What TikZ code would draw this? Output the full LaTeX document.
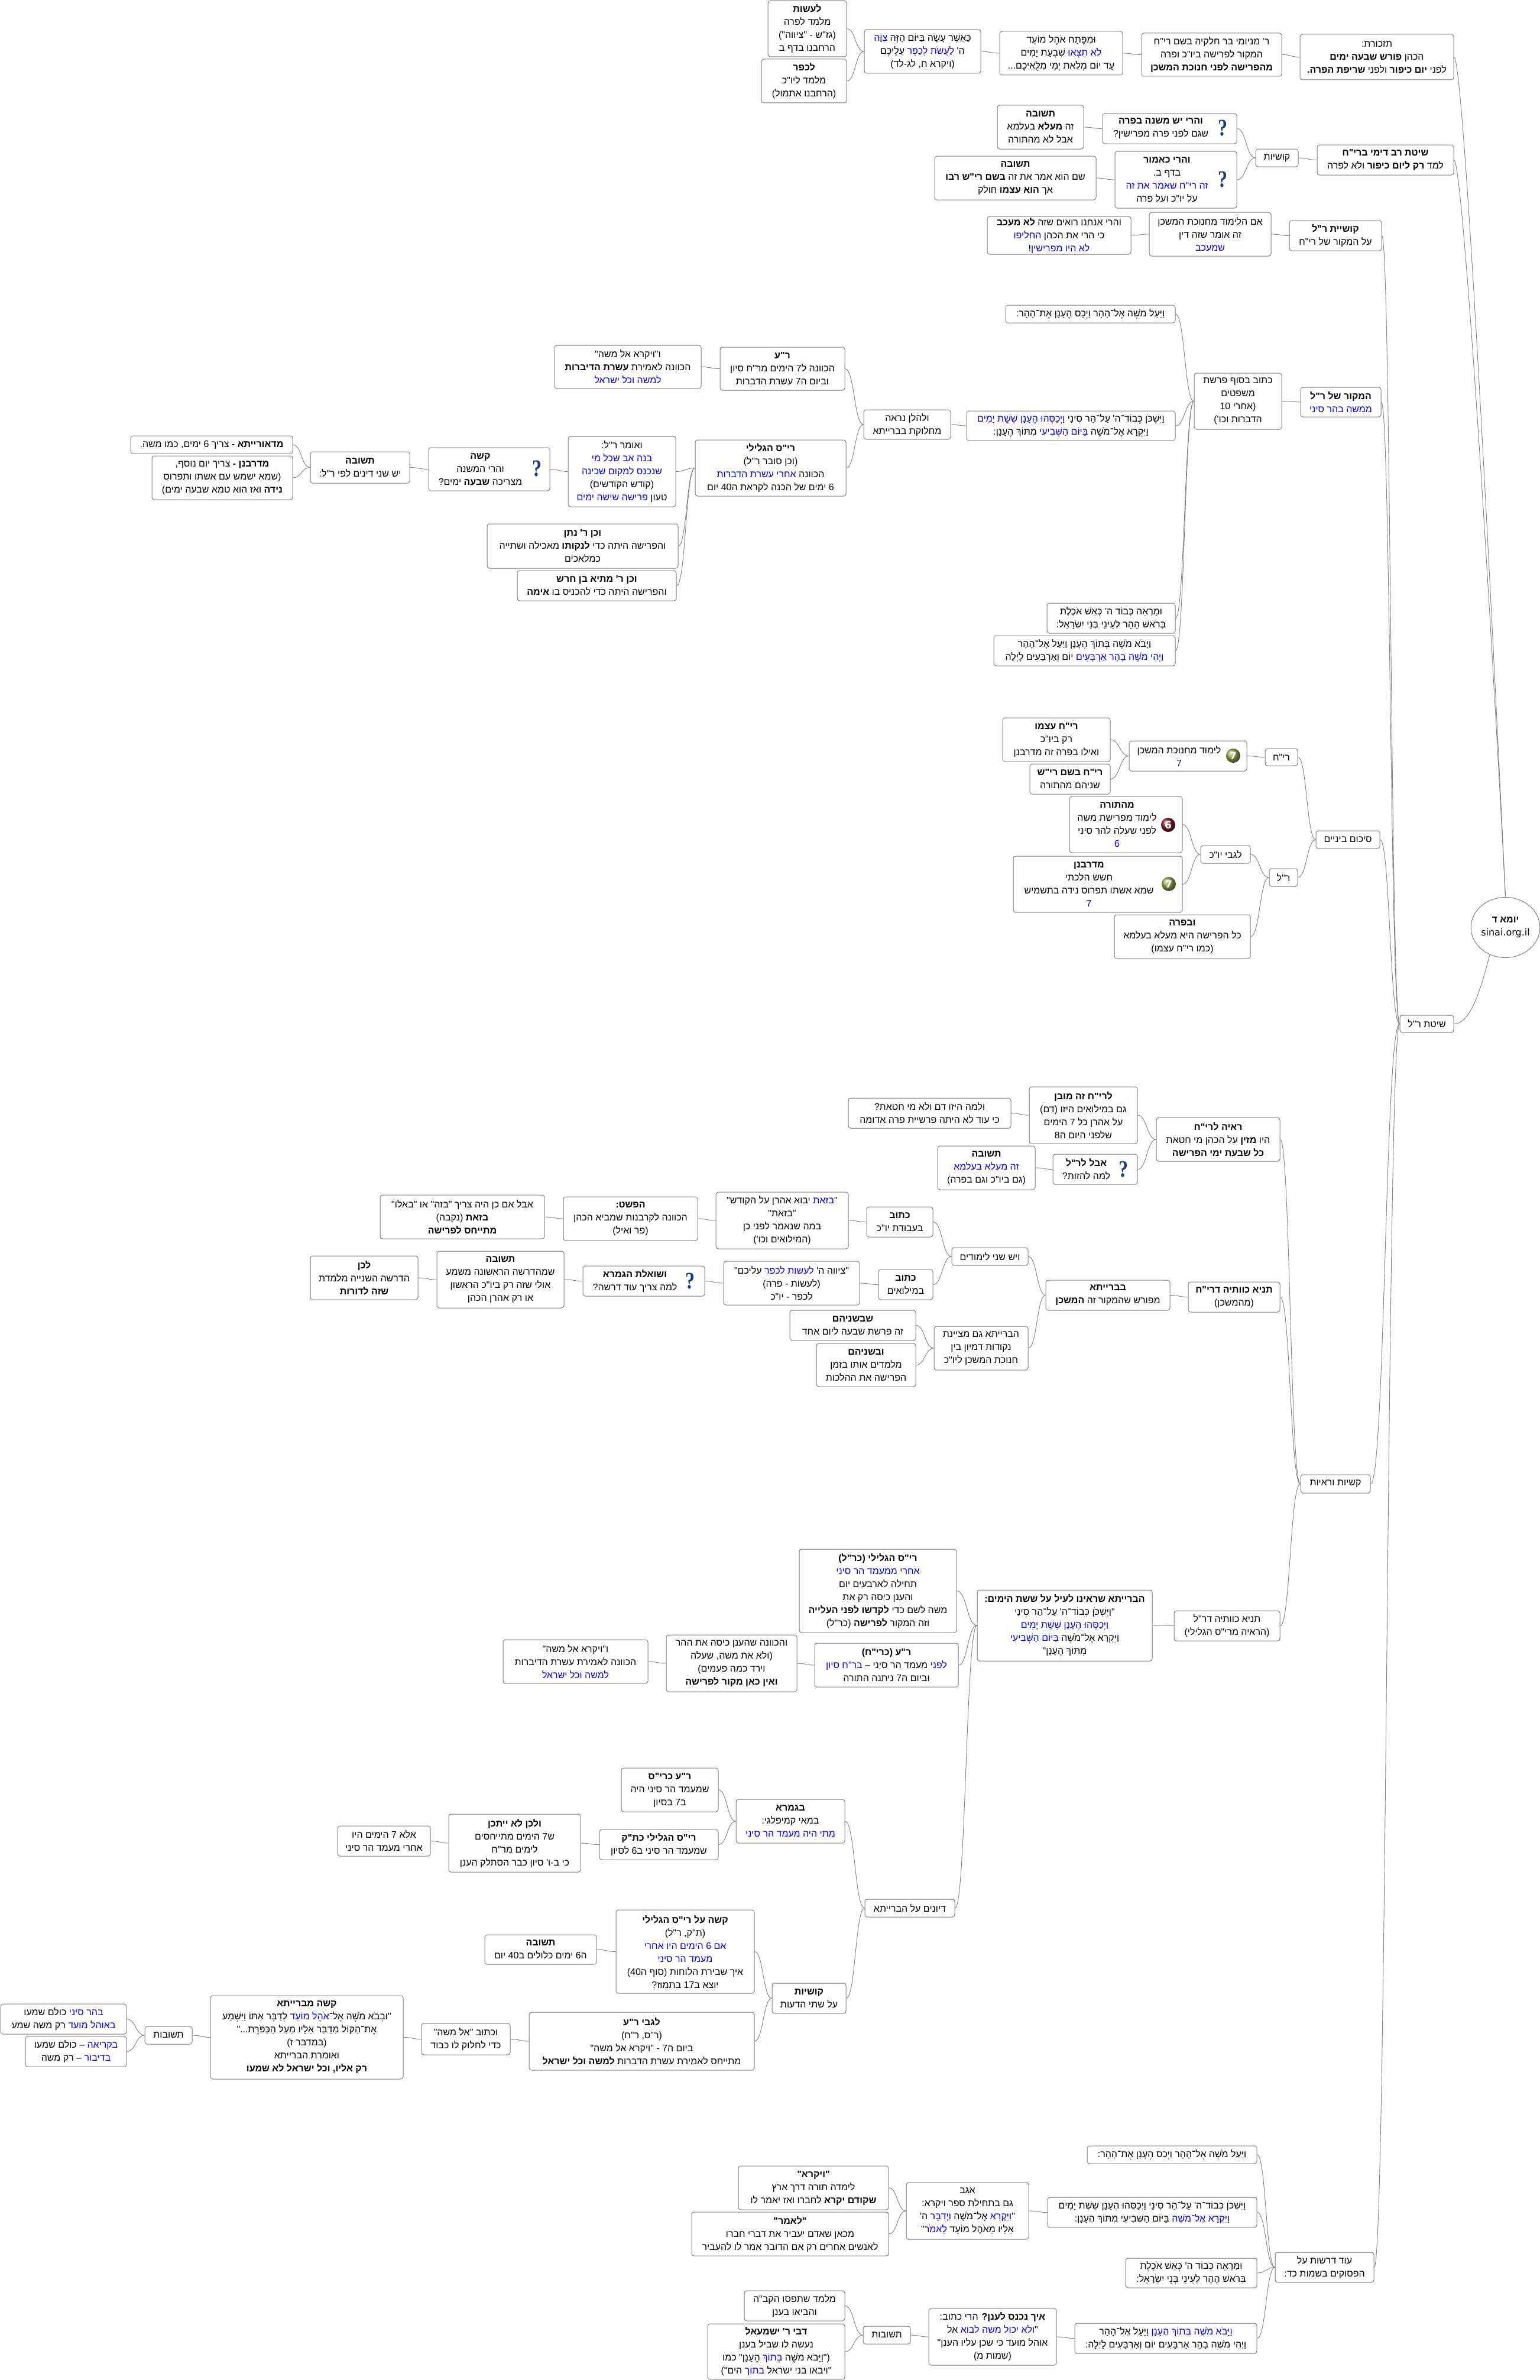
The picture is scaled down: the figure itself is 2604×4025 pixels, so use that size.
\documentclass[tikz,border=0pt]{standalone}
\usepackage{fontspec}
\usetikzlibrary{calc,shapes.geometric}
\TeXXeTstate=1
\newfontfamily\hb[Script=Hebrew]{Liberation Sans}
\newfontfamily\hbblue[Script=Hebrew,Color=0000FF]{Liberation Sans}
\newfontfamily\lat{DejaVu Sans}
\newfontfamily\qf{Liberation Serif}
\definecolor{edgegray}{RGB}{128,128,128}
\definecolor{qblue}{RGB}{32,58,120}
\definecolor{ballg}{RGB}{150,170,80}
\definecolor{ballr}{RGB}{135,35,45}
\newcommand\rl[1]{\leavevmode\beginR #1\endR}
\newcommand\blu[1]{{\hbblue #1}}
\newcommand\tb[1]{\textbf{#1}}
\tikzset{
  box/.style={draw=edgegray,rounded corners=4pt,fill=white,line width=1pt,inner sep=0pt,align=center,font=\fontsize{16}{22}\selectfont\hb,text=black},
  txt/.style={inner sep=0pt,align=center,font=\fontsize{16}{22}\selectfont\hb,text=black},
  link/.style={draw=edgegray,line width=.9pt},
  qmark/.style={inner sep=0pt,transform shape,xscale=.8,font=\fontsize{40}{40}\selectfont\qf\bfseries,text=qblue},
  ballnum/.style={circle,inner sep=0pt,minimum size=24pt,text=white,font=\fontsize{17}{17}\selectfont\lat\bfseries},
}
\newcommand\bx[6]{\node[box,minimum width={(#4-#2)*1pt},minimum height={(#5-#3)*1pt}] (#1) at ({(#2+#4)/2},{(#3+#5)/2}) {#6};}
\newcommand\bxi[6]{\node[box,minimum width={(#4-#2)*1pt},minimum height={(#5-#3)*1pt}] (#1) at ({(#2+#4)/2},{(#3+#5)/2}) {};
  \node[txt,xshift=-15pt] (#1T) at (#1) {#6};}
\newcommand\lnk[2]{\coordinate (mm) at ($(#1.east)!.5!(#2.west)$);
  \draw[link] (#1.east) .. controls (mm |- #1.east) and (mm |- #2.west) .. (#2.west);}
\begin{document}
\begin{tikzpicture}[x=1pt,y=-1pt]
\useasboundingbox[fill=white] (0,0) rectangle (2604,4025);
% ---- top
\bx{a01}{1299}{1}{1432}{96}{\rl{\tb{לעשות}}\\\rl{מלמד לפרה}\\\rl{(גז"ש - "ציווה")}\\\rl{הרחבנו בדף ב}}
\bx{a02}{1288}{100}{1432}{174}{\rl{\tb{לכפר}}\\\rl{מלמד ליו"כ}\\\rl{(הרחבנו אתמול)}}
\bx{a03}{1462}{50}{1659}{124}{\rl{כַּאֲשֶׁר עָשָׂה בַּיּוֹם הַזֶּה \blu{צִוָּה}}\\\rl{ה' \blu{לַעֲשֹׂת לְכַפֵּר} עֲלֵיכֶם}\\\rl{(ויקרא ח, לג-לד)}}
\bx{a04}{1691}{53}{1899}{127}{\rl{וּמִפֶּתַח אֹהֶל מוֹעֵד}\\\rl{\blu{לֹא תֵצְאוּ} שִׁבְעַת יָמִים}\\\rl{עַד יוֹם מְלֹאת יְמֵי מִלֻּאֵיכֶם...}}
\bx{a05}{1931}{56}{2168}{129}{\rl{ר' מניומי בר חלקיה בשם רי"ח}\\\rl{המקור לפרישה ביו"כ ופרה}\\\rl{\tb{מהפרישה לפני חנוכת המשכן}}}
\bx{a06}{2199}{58}{2459}{135}{\rl{תזכורת:}\\\rl{הכהן \tb{פורש שבעה ימים}}\\\rl{לפני \tb{יום כיפור} ולפני \tb{שריפת הפרה.}}}
\bx{a07}{1687}{178}{1833}{252}{\rl{\tb{תשובה}}\\\rl{זה \tb{מעלא} בעלמא}\\\rl{אבל לא מהתורה}}
\bxi{a08}{1865}{192}{2092}{243}{\rl{\tb{והרי יש משנה בפרה}}\\\rl{שגם לפני פרה מפרישין?}}
\bx{a09}{2124}{252}{2196}{282}{\rl{קושיות}}
\bx{a10}{2228}{245}{2459}{296}{\rl{\tb{שיטת רב דימי ברי"ח}}\\\rl{למד \tb{רק ליום כיפור} ולא לפרה}}
\bx{a11}{1581}{264}{1854}{338}{\rl{\tb{תשובה}}\\\rl{שם הוא אמר את זה \tb{בשם רי"ש רבו}}\\\rl{אך \tb{הוא עצמו} חולק}}
\bxi{a12}{1886}{256}{2092}{352}{\rl{\tb{והרי כאמור}}\\\rl{בדף ב.}\\\rl{\blu{זה רי"ח שאמר את זה}}\\\rl{על יו"כ ועל פרה}}
\bx{a13}{1670}{366}{1913}{430}{\rl{והרי אנחנו רואים שזה \tb{לא מעכב}}\\\rl{כי הרי את הכהן \blu{החליפו}}\\\rl{\blu{לא היו מפרישין}!}}
\bx{a14}{1944}{359}{2150}{433}{\rl{אם הלימוד מחנוכת המשכן}\\\rl{זה אומר שזה דין}\\\rl{\blu{שמעכב}}}
\bx{a15}{2181}{373}{2337}{424}{\rl{\tb{קושיית ר"ל}}\\\rl{על המקור של רי"ח}}
% ---- source of R"L
\bx{b01}{1701}{516}{1988}{546}{\rl{וַיַּעַל מֹשֶׁה אֶל־הָהָר וַיְכַס הֶעָנָן אֶת־הָהָר:}}
\bx{b02}{1635}{695}{1988}{745}{\rl{וַיִּשְׁכֹּן כְּבוֹד־ה' עַל־הַר סִינַי \blu{וַיְכַסֵּהוּ הֶעָנָן שֵׁשֶׁת יָמִים}}\\\rl{וַיִּקְרָא אֶל־מֹשֶׁה \blu{בַּיּוֹם הַשְּׁבִיעִי} מִתּוֹךְ הֶעָנָן:}}
\bx{b03}{1771}{1020}{1988}{1071}{\rl{וּמַרְאֵה כְּבוֹד ה' כְּאֵשׁ אֹכֶלֶת}\\\rl{בְּרֹאשׁ הָהָר לְעֵינֵי בְּנֵי יִשְׂרָאֵל:}}
\bx{b04}{1681}{1075}{1988}{1126}{\rl{וַיָּבֹא מֹשֶׁה בְּתוֹךְ הֶעָנָן וַיַּעַל אֶל־הָהָר}\\\rl{\blu{וַיְהִי מֹשֶׁה בָהָר אַרְבָּעִים} יוֹם וְאַרְבָּעִים לָיְלָה}}
\bx{b05}{2020}{631}{2168}{726}{\rl{כתוב בסוף פרשת}\\\rl{משפטים}\\\rl{(אחרי 10}\\\rl{הדברות וכו')}}
\bx{b06}{2200}{655}{2336}{705}{\rl{\tb{המקור של ר"ל}}\\\rl{\blu{ממשה בהר סיני}}}
\bx{b07}{1461}{693}{1608}{743}{\rl{ולהלן נראה}\\\rl{מחלוקת בברייתא}}
\bx{b08}{1218}{587}{1429}{660}{\rl{\tb{ר"ע}}\\\rl{הכוונה ל7 הימים מר"ח סיון}\\\rl{וביום ה7 עשרת הדברות}}
\bx{b09}{938}{584}{1186}{657}{\rl{ו"ויקרא אל משה"}\\\rl{הכוונה לאמירת \tb{עשרת הדיברות}}\\\rl{\blu{למשה וכל ישראל}}}
\bx{b10}{1176}{744}{1431}{839}{\rl{\tb{רי"ס הגלילי}}\\\rl{(וכן סובר ר"ל)}\\\rl{הכוונה \blu{אחרי עשרת הדברות}}\\\rl{6 ימים של הכנה לקראת ה40 יום}}
\bx{b11}{961}{738}{1143}{857}{\rl{ואומר ר"ל:}\\\rl{\blu{בנה אב שכל מי}}\\\rl{\blu{שנכנס למקום שכינה}}\\\rl{(קודש הקודשים)}\\\rl{טעון \blu{פרישה שישה ימים}}}
\bxi{b12}{725}{757}{930}{830}{\rl{\tb{קשה}}\\\rl{והרי המשנה}\\\rl{מצריכה \tb{שבעה} ימים?}}
\bx{b13}{525}{764}{693}{817}{\rl{\tb{תשובה}}\\\rl{יש שני דינים לפי ר"ל:}}
\bx{b14}{221}{737}{495}{767}{\rl{\tb{מדאורייתא -} צריך 6 ימים, כמו משה.}}
\bx{b15}{257}{771}{495}{845}{\rl{\tb{מדרבנן -} צריך יום נוסף,}\\\rl{(שמא ישמש עם אשתו ותפרוס}\\\rl{\tb{נידה} ואז הוא טמא שבעה ימים)}}
\bx{b16}{824}{886}{1147}{961}{\rl{\tb{וכן ר' נתן}}\\\rl{והפרישה היתה כדי \tb{לנקותו} מאכילה ושתייה}\\\rl{כמלאכים}}
\bx{b17}{875}{965}{1144}{1016}{\rl{\tb{וכן ר' מתיא בן חרש}}\\\rl{והפרישה היתה כדי להכניס בו \tb{אימה}}}
% ---- summary
\bx{c01}{1696}{1214}{1878}{1288}{\rl{\tb{רי"ח עצמו}}\\\rl{רק ביו"כ}\\\rl{ואילו בפרה זה מדרבנן}}
\bx{c02}{1742}{1292}{1878}{1343}{\rl{\tb{רי"ח בשם רי"ש}}\\\rl{שניהם מהתורה}}
\bxi{c03}{1910}{1253}{2109}{1304}{\rl{לימוד מחנוכת המשכן}\\\rl{\blu{7}}}
\bx{c04}{2140}{1266}{2195}{1295}{\rl{רי"ח}}
\bxi{c05}{1809}{1347}{2000}{1442}{\rl{\tb{מהתורה}}\\\rl{לימוד מפרישת משה}\\\rl{לפני שעלה להר סיני}\\\rl{\blu{6}}}
\bxi{c06}{1714}{1448}{2000}{1543}{\rl{\tb{מדרבנן}}\\\rl{חשש הלכתי}\\\rl{שמא אשתו תפרוס נידה בתשמיש}\\\rl{\blu{7}}}
\bx{c07}{2031}{1430}{2115}{1460}{\rl{לגבי יו"כ}}
\bx{c08}{2147}{1469}{2195}{1499}{\rl{ר"ל}}
\bx{c09}{1885}{1547}{2115}{1621}{\rl{\tb{ובפרה}}\\\rl{כל הפרישה היא מעלא בעלמא}\\\rl{(כמו רי"ח עצמו)}}
\bx{c10}{2226}{1405}{2334}{1435}{\rl{סיכום ביניים}}
\node[box,shape=ellipse,minimum width=113pt,minimum height=102pt] (root) at (2546.5,1568.5) {\rl{\tb{יומא ד}}\\{\lat sinai.org.il}};
\bx{srl}{2368}{1717}{2459}{1746}{\rl{שיטת ר"ל}}
% ---- proofs
\bx{d01}{1435}{1857}{1710}{1908}{\rl{ולמה היזו דם ולא מי חטאת?}\\\rl{כי עוד לא היתה פרשיית פרה אדומה}}
\bx{d02}{1741}{1838}{1924}{1934}{\rl{\tb{לרי"ח זה מובן}}\\\rl{גם במילואים היזו (דם)}\\\rl{על אהרן כל 7 הימים}\\\rl{שלפני היום ה8}}
\bx{d03}{1956}{1890}{2165}{1964}{\rl{\tb{ראיה לרי"ח}}\\\rl{היו \tb{מזין} על הכהן מי חטאת}\\\rl{\tb{כל שבעת ימי הפרישה}}}
\bx{d04}{1586}{1938}{1751}{2012}{\rl{\tb{תשובה}}\\\rl{\blu{זה מעלא בעלמא}}\\\rl{(גם ביו"כ וגם בפרה)}}
\bxi{d05}{1781}{1952}{1924}{2003}{\rl{\tb{אבל לר"ל}}\\\rl{למה להזות?}}
\bx{d06}{643}{2021}{921}{2095}{\rl{אבל אם כן היה צריך "בזה" או "באלו"}\\\rl{\tb{בזאת} (נקבה)}\\\rl{\tb{מתייחס לפרישה}}}
\bx{d07}{953}{2024}{1180}{2098}{\rl{\tb{הפשט:}}\\\rl{הכוונה לקרבנות שמביא הכהן}\\\rl{(פר ואיל)}}
\bx{d08}{1211}{2016}{1435}{2112}{\rl{"\blu{בזאת} יבוא אהרן על הקודש"}\\\rl{"בזאת"}\\\rl{במה שנאמר לפני כן}\\\rl{(המילואים וכו')}}
\bx{d09}{1466}{2041}{1578}{2092}{\rl{\tb{כתוב}}\\\rl{בעבודת יו"כ}}
\bx{d10}{1610}{2110}{1739}{2140}{\rl{ויש שני לימודים}}
\bx{d11}{1486}{2147}{1578}{2198}{\rl{\tb{כתוב}}\\\rl{במילואים}}
\bx{d12}{1224}{2133}{1454}{2207}{\rl{"ציווה ה' \blu{לעשות לכפר} עליכם"}\\\rl{(לעשות - פרה)}\\\rl{לכפר - יו"כ}}
\bxi{d13}{986}{2141}{1192}{2192}{\rl{\tb{ושואלת הגמרא}}\\\rl{למה צריך עוד דרשה?}}
\bx{d14}{739}{2116}{954}{2212}{\rl{\tb{תשובה}}\\\rl{שמהדרשה הראשונה משמע}\\\rl{אולי שזה רק ביו"כ הראשון}\\\rl{או רק אהרן הכהן}}
\bx{d15}{525}{2124}{707}{2198}{\rl{\tb{לכן}}\\\rl{הדרשה השנייה מלמדת}\\\rl{\tb{שזה לדורות}}}
\bx{d16}{1336}{2216}{1549}{2267}{\rl{\tb{שבשניהם}}\\\rl{זה פרשת שבעה ליום אחד}}
\bx{d17}{1381}{2272}{1549}{2345}{\rl{\tb{ובשניהם}}\\\rl{מלמדים אותו בזמן}\\\rl{הפרישה את ההלכות}}
\bx{d18}{1580}{2243}{1739}{2317}{\rl{הברייתא גם מציינת}\\\rl{נקודות דמיון בין}\\\rl{חנוכת המשכן ליו"כ}}
\bx{d19}{1769}{2165}{1979}{2216}{\rl{\tb{בברייתא}}\\\rl{מפורש שהמקור זה \tb{המשכן}}}
\bx{d20}{2010}{2168}{2165}{2219}{\rl{\tb{תניא כוותיה דרי"ח}}\\\rl{(מהמשכן)}}
\bx{kv}{2200}{2494}{2318}{2525}{\rl{קשיות וראיות}}
% ---- baraita
\bx{e01}{1352}{2620}{1618}{2761}{\rl{\tb{רי"ס הגלילי (כר"ל)}}\\\rl{\blu{אחרי ממעמד הר סיני}}\\\rl{תחילה לארבעים יום}\\\rl{והענן כיסה רק את}\\\rl{משה לשם כדי \tb{לקדשו לפני העלייה}}\\\rl{וזה המקור \tb{לפרישה} (כר"ל)}}
\bx{e02}{1653}{2689}{1949}{2809}{\rl{\tb{הברייתא שראינו לעיל על ששת הימים:}}\\\rl{"וַיִּשְׁכֹּן כְּבוֹד־ה' עַל־הַר סִינַי}\\\rl{\blu{וַיְכַסֵּהוּ הֶעָנָן שֵׁשֶׁת יָמִים}}\\\rl{וַיִּקְרָא אֶל־מֹשֶׁה \blu{בַּיּוֹם הַשְּׁבִיעִי}}\\\rl{מִתּוֹךְ הֶעָנָן"}}
\bx{e03}{1986}{2724}{2165}{2775}{\rl{תניא כוותיה דר"ל}\\\rl{(הראיה מרי"ס הגלילי)}}
\bx{e04}{1378}{2779}{1621}{2853}{\rl{\tb{ר"ע (כרי"ח)}}\\\rl{\blu{לפני} מעמד הר סיני – \blu{בר"ח סיון}}\\\rl{וביום ה7 ניתנה התורה}}
\bx{e05}{1127}{2765}{1348}{2861}{\rl{והכוונה שהענן כיסה את ההר}\\\rl{(ולא את משה, שעלה}\\\rl{וירד כמה פעמים)}\\\rl{\tb{ואין כאן מקור לפרישה}}}
\bx{e06}{851}{2773}{1096}{2847}{\rl{ו"ויקרא אל משה"}\\\rl{הכוונה לאמירת עשרת הדיברות}\\\rl{\blu{למשה וכל ישראל}}}
% ---- discussions
\bx{f01}{1051}{2990}{1215}{3064}{\rl{\tb{ר"ע כרי"ס}}\\\rl{שמעמד הר סיני היה}\\\rl{ב7 בסיון}}
\bx{f02}{1245}{3043}{1429}{3117}{\rl{\tb{בגמרא}}\\\rl{במאי קמיפלגי:}\\\rl{\blu{מתי היה מעמד הר סיני}}}
\bx{f03}{1014}{3094}{1215}{3145}{\rl{\tb{רי"ס הגלילי כת"ק}}\\\rl{שמעמד הר סיני ב6 לסיון}}
\bx{f04}{759}{3068}{982}{3166}{\rl{\tb{ולכן לא ייתכן}}\\\rl{ש7 הימים מתייחסים}\\\rl{לימים מר"ח}\\\rl{כי ב-ו' סיון כבר הסתלק הענן}}
\bx{f05}{571}{3088}{728}{3139}{\rl{אלא 7 הימים היו}\\\rl{אחרי מעמד הר סיני}}
\bx{f06}{1463}{3212}{1615}{3242}{\rl{דיונים על הברייתא}}
\bx{f07}{1042}{3230}{1276}{3371}{\rl{\tb{קשה על רי"ס הגלילי}}\\\rl{(ת"ק, ר"ל)}\\\rl{\blu{אם 6 הימים היו אחרי}}\\\rl{\blu{מעמד הר סיני}}\\\rl{איך שבירת הלוחות (סוף ה40)}\\\rl{יוצא ב17 בתמוז?}}
\bx{f08}{820}{3272}{1009}{3322}{\rl{\tb{תשובה}}\\\rl{ה6 ימים כלולים ב40 יום}}
\bx{f09}{1306}{3354}{1431}{3405}{\rl{\tb{קושיות}}\\\rl{על שתי הדעות}}
\bx{f10}{895}{3403}{1276}{3501}{\rl{\tb{לגבי ר"ע}}\\\rl{(ר"ס, ר"ח)}\\\rl{ביום ה7 - "ויקרא אל משה"}\\\rl{מתייחס לאמירת עשרת הדברות \tb{למשה וכל ישראל}}}
\bx{f11}{713}{3422}{863}{3475}{\rl{וכתוב "אל משה"}\\\rl{כדי לחלוק לו כבוד}}
\bx{f12}{356}{3375}{682}{3516}{\rl{\tb{קשה מברייתא}}\\\rl{"וּבְבֹא מֹשֶׁה אֶל־\blu{אֹהֶל מוֹעֵד} לְדַבֵּר אִתּוֹ וַיִּשְׁמַע}\\\rl{אֶת־הַקּוֹל מִדַּבֵּר אֵלָיו מֵעַל הַכַּפֹּרֶת..."}\\\rl{(במדבר ז)}\\\rl{ואומרת הברייתא}\\\rl{\tb{רק אליו, וכל ישראל לא שמעו}}}
\bx{f13}{245}{3427}{325}{3457}{\rl{תשובות}}
\bx{f14}{1}{3389}{214}{3440}{\rl{\blu{בהר סיני} כולם שמעו}\\\rl{\blu{באוהל מועד} רק משה שמע}}
\bx{f15}{43}{3444}{214}{3495}{\rl{\blu{בקריאה} – כולם שמעו}\\\rl{\blu{בדיבור} – רק משה}}
% ---- more derashot
\bx{g01}{1839}{3629}{2126}{3659}{\rl{וַיַּעַל מֹשֶׁה אֶל־הָהָר וַיְכַס הֶעָנָן אֶת־הָהָר:}}
\bx{g02}{1772}{3716}{2126}{3767}{\rl{וַיִּשְׁכֹּן כְּבוֹד־ה' עַל־הַר סִינַי וַיְכַסֵּהוּ הֶעָנָן שֵׁשֶׁת יָמִים}\\\rl{\blu{וַיִּקְרָא אֶל־מֹשֶׁה} בַּיּוֹם הַשְּׁבִיעִי מִתּוֹךְ הֶעָנָן:}}
\bx{g03}{1533}{3691}{1740}{3787}{\rl{אגב}\\\rl{גם בתחילת ספר ויקרא:}\\\rl{"\blu{וַיִּקְרָא} אֶל־מֹשֶׁה \blu{וַיְדַבֵּר} ה'}\\\rl{אֵלָיו מֵאֹהֶל מוֹעֵד \blu{לֵאמֹר}"}}
\bx{g04}{1249}{3663}{1503}{3737}{\rl{\tb{"ויקרא"}}\\\rl{לימדה תורה דרך ארץ}\\\rl{\tb{שקודם יקרא} לחברו ואז יאמר לו}}
\bx{g05}{1170}{3741}{1503}{3815}{\rl{\tb{"לאמר"}}\\\rl{מכאן שאדם יעביר את דברי חברו}\\\rl{לאנשים אחרים רק אם הדובר אמר לו להעביר}}
\bx{g06}{1904}{3819}{2126}{3869}{\rl{וּמַרְאֵה כְּבוֹד ה' כְּאֵשׁ אֹכֶלֶת}\\\rl{בְּרֹאשׁ הָהָר לְעֵינֵי בְּנֵי יִשְׂרָאֵל:}}
\bx{g07}{2157}{3809}{2324}{3860}{\rl{עוד דרשות על}\\\rl{הפסוקים בשמות כד:}}
\bx{g08}{1818}{3929}{2126}{3980}{\rl{\blu{וַיָּבֹא מֹשֶׁה בְּתוֹךְ הֶעָנָן} וַיַּעַל אֶל־הָהָר}\\\rl{וַיְהִי מֹשֶׁה בָהָר אַרְבָּעִים יוֹם וְאַרְבָּעִים לָיְלָה:}}
\bx{g09}{1571}{3904}{1787}{4000}{\rl{\tb{איך נכנס לענן?} הרי כתוב:}\\\rl{"\blu{ולא יכול משה לבוא} אל}\\\rl{אוהל מועד כי שכן עליו הענן"}\\\rl{(שמות מ)}}
\bx{g10}{1460}{3934}{1540}{3964}{\rl{תשובות}}
\bx{g11}{1259}{3874}{1429}{3925}{\rl{מלמד שתפסו הקב"ה}\\\rl{והביאו בענן}}
\bx{g12}{1197}{3930}{1429}{4024}{\rl{\tb{דבי ר' ישמעאל}}\\\rl{נעשה לו שביל בענן}\\\rl{("וַיָּבֹא מֹשֶׁה \blu{בְּתוֹךְ} הֶעָנָן" כמו}\\\rl{"ויבאו בני ישראל \blu{בתוך} הים")}}
% ---- icons
\node[qmark] (q1) at (2068,217) {?};
\node[qmark] (q2) at (2068,304) {?};
\node[qmark] (q3) at (908,793) {?};
\node[qmark] (q4) at (1900,1978) {?};
\node[qmark] (q5) at (1167,2167) {?};
\shade[ball color=ballg] (2086,1278) circle (12pt);
\node[ballnum] (i1) at (2086,1278) {7};
\shade[ball color=ballr] (1976,1395) circle (12pt);
\node[ballnum] (i2) at (1976,1395) {6};
\shade[ball color=ballg] (1977,1495) circle (12pt);
\node[ballnum] (i3) at (1977,1495) {7};
% ---- connectors
\foreach \u/\v in {a01/a03,a02/a03,a03/a04,a04/a05,a05/a06,a07/a08,a08/a09,a09/a10,a11/a12,a12/a09,a13/a14,a14/a15,a15/srl,
 b01/b05,b02/b05,b03/b05,b04/b05,b05/b06,b06/srl,b07/b02,b08/b07,b09/b08,b10/b07,b11/b10,b12/b11,b13/b12,b14/b13,b15/b13,b16/b10,b17/b10,
 c01/c03,c02/c03,c03/c04,c04/c10,c05/c07,c06/c07,c07/c08,c08/c10,c09/c08,c10/srl,
 d01/d02,d02/d03,d03/kv,d04/d05,d05/d03,d06/d07,d07/d08,d08/d09,d09/d10,d10/d19,d11/d10,d12/d11,d13/d12,d14/d13,d15/d14,d16/d18,d17/d18,d18/d19,d19/d20,d20/kv,kv/srl,
 e01/e02,e02/e03,e03/kv,e04/e02,e05/e04,e06/e05,f06/e02,
 f01/f02,f02/f06,f03/f02,f04/f03,f05/f04,f07/f09,f08/f07,f09/f06,f10/f09,f11/f10,f12/f11,f13/f12,f14/f13,f15/f13,
 g01/g07,g02/g07,g03/g02,g04/g03,g05/g03,g06/g07,g07/srl,g08/g07,g09/g08,g10/g09,g11/g10,g12/g10}{\lnk{\u}{\v}}
\draw[link] (a06.east) .. controls (2476,96) and (2522,1000) .. (root.north);
\draw[link] (a10.east) .. controls (2474,270) and (2520,1000) .. (root.north);
\draw[link] (srl.east) .. controls (2490,1732) and (2508,1660) .. (root.240);
\end{tikzpicture}
\end{document}
